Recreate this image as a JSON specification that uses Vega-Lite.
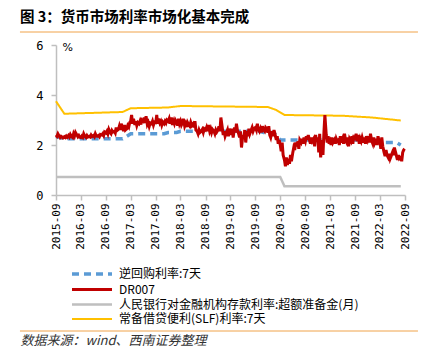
{
"$schema":"https://vega.github.io/schema/vega-lite/v6.json",
"width":349,"height":150,"autosize":"none",
"padding":{"left":56,"top":45,"right":17,"bottom":160},
"background":"white",
"config":{"view":{"stroke":null},"font":"Noto Sans CJK SC"},
"title":{"text":"图 3：货币市场利率市场化基本完成","anchor":"start","frame":"group","dx":-36,"offset":6,"fontSize":14.5,"fontWeight":"bold","color":"#000000","font":"Noto Sans CJK SC"},
"resolve":{"axis":{"x":"independent","y":"independent"}},
"datasets":{
"rules":[{"a":"2014-12-11","b":"2022-12-05","y":6.52},{"a":"2014-12-11","b":"2022-12-05","y":-5.44}],
"series":[
{"s":"逆回购利率:7天","d":"2015-09-01","v":2.35},{"s":"逆回购利率:7天","d":"2015-10-01","v":2.3},{"s":"逆回购利率:7天","d":"2015-11-01","v":2.25},{"s":"逆回购利率:7天","d":"2017-01-01","v":2.25},{"s":"逆回购利率:7天","d":"2017-02-01","v":2.35},{"s":"逆回购利率:7天","d":"2017-03-01","v":2.45},{"s":"逆回购利率:7天","d":"2017-11-01","v":2.45},{"s":"逆回购利率:7天","d":"2017-12-01","v":2.5},{"s":"逆回购利率:7天","d":"2018-02-01","v":2.5},{"s":"逆回购利率:7天","d":"2018-03-01","v":2.55},{"s":"逆回购利率:7天","d":"2019-10-01","v":2.55},{"s":"逆回购利率:7天","d":"2019-11-01","v":2.5},{"s":"逆回购利率:7天","d":"2020-01-01","v":2.5},{"s":"逆回购利率:7天","d":"2020-02-01","v":2.4},{"s":"逆回购利率:7天","d":"2020-03-01","v":2.2},{"s":"逆回购利率:7天","d":"2021-12-01","v":2.2},{"s":"逆回购利率:7天","d":"2022-01-01","v":2.1},{"s":"逆回购利率:7天","d":"2022-07-01","v":2.1},{"s":"逆回购利率:7天","d":"2022-08-01","v":2.0},
{"s":"人民银行对金融机构存款利率:超额准备金(月)","d":"2015-09-01","v":0.72},{"s":"人民银行对金融机构存款利率:超额准备金(月)","d":"2020-03-01","v":0.72},{"s":"人民银行对金融机构存款利率:超额准备金(月)","d":"2020-04-01","v":0.35},{"s":"人民银行对金融机构存款利率:超额准备金(月)","d":"2022-08-01","v":0.35},
{"s":"常备借贷便利(SLF)利率:7天","d":"2015-09-01","v":3.75},{"s":"常备借贷便利(SLF)利率:7天","d":"2015-11-01","v":3.25},{"s":"常备借贷便利(SLF)利率:7天","d":"2017-01-01","v":3.32},{"s":"常备借贷便利(SLF)利率:7天","d":"2017-03-01","v":3.47},{"s":"常备借贷便利(SLF)利率:7天","d":"2017-12-01","v":3.5},{"s":"常备借贷便利(SLF)利率:7天","d":"2018-03-01","v":3.56},{"s":"常备借贷便利(SLF)利率:7天","d":"2019-12-01","v":3.52},{"s":"常备借贷便利(SLF)利率:7天","d":"2020-02-01","v":3.4},{"s":"常备借贷便利(SLF)利率:7天","d":"2020-04-01","v":3.2},{"s":"常备借贷便利(SLF)利率:7天","d":"2021-06-01","v":3.17},{"s":"常备借贷便利(SLF)利率:7天","d":"2022-01-01","v":3.1},{"s":"常备借贷便利(SLF)利率:7天","d":"2022-08-01","v":2.98},
{"s":"DR007","d":"2015-09-01","v":2.40},{"s":"DR007","d":"2015-09-08","v":2.35},{"s":"DR007","d":"2015-09-15","v":2.45},{"s":"DR007","d":"2015-09-22","v":2.38},
{"s":"DR007","d":"2015-10-01","v":2.30},{"s":"DR007","d":"2015-10-08","v":2.35},{"s":"DR007","d":"2015-10-15","v":2.32},{"s":"DR007","d":"2015-10-22","v":2.28},
{"s":"DR007","d":"2015-11-01","v":2.33},{"s":"DR007","d":"2015-11-08","v":2.30},{"s":"DR007","d":"2015-11-15","v":2.36},{"s":"DR007","d":"2015-11-22","v":2.31},
{"s":"DR007","d":"2015-12-01","v":2.38},{"s":"DR007","d":"2015-12-08","v":2.32},{"s":"DR007","d":"2015-12-15","v":2.42},{"s":"DR007","d":"2015-12-22","v":2.35},
{"s":"DR007","d":"2016-01-01","v":2.30},{"s":"DR007","d":"2016-01-08","v":2.45},{"s":"DR007","d":"2016-01-15","v":2.36},{"s":"DR007","d":"2016-01-22","v":2.50},
{"s":"DR007","d":"2016-02-01","v":2.40},{"s":"DR007","d":"2016-02-08","v":2.33},{"s":"DR007","d":"2016-02-15","v":2.38},{"s":"DR007","d":"2016-02-22","v":2.31},
{"s":"DR007","d":"2016-03-01","v":2.30},{"s":"DR007","d":"2016-03-08","v":2.36},{"s":"DR007","d":"2016-03-15","v":2.31},{"s":"DR007","d":"2016-03-22","v":2.45},
{"s":"DR007","d":"2016-04-01","v":2.34},{"s":"DR007","d":"2016-04-08","v":2.30},{"s":"DR007","d":"2016-04-15","v":2.38},{"s":"DR007","d":"2016-04-22","v":2.32},
{"s":"DR007","d":"2016-05-01","v":2.35},{"s":"DR007","d":"2016-05-08","v":2.32},{"s":"DR007","d":"2016-05-15","v":2.40},{"s":"DR007","d":"2016-05-22","v":2.34},
{"s":"DR007","d":"2016-06-01","v":2.38},{"s":"DR007","d":"2016-06-08","v":2.33},{"s":"DR007","d":"2016-06-15","v":2.45},{"s":"DR007","d":"2016-06-22","v":2.36},
{"s":"DR007","d":"2016-07-01","v":2.35},{"s":"DR007","d":"2016-07-08","v":2.38},{"s":"DR007","d":"2016-07-15","v":2.33},{"s":"DR007","d":"2016-07-22","v":2.42},
{"s":"DR007","d":"2016-08-01","v":2.40},{"s":"DR007","d":"2016-08-08","v":2.45},{"s":"DR007","d":"2016-08-15","v":2.38},{"s":"DR007","d":"2016-08-22","v":2.52},
{"s":"DR007","d":"2016-09-01","v":2.48},{"s":"DR007","d":"2016-09-08","v":2.55},{"s":"DR007","d":"2016-09-15","v":2.45},{"s":"DR007","d":"2016-09-22","v":2.62},
{"s":"DR007","d":"2016-10-01","v":2.50},{"s":"DR007","d":"2016-10-08","v":2.45},{"s":"DR007","d":"2016-10-15","v":2.58},{"s":"DR007","d":"2016-10-22","v":2.52},
{"s":"DR007","d":"2016-11-01","v":2.55},{"s":"DR007","d":"2016-11-08","v":2.48},{"s":"DR007","d":"2016-11-15","v":2.70},{"s":"DR007","d":"2016-11-22","v":2.58},
{"s":"DR007","d":"2016-12-01","v":2.62},{"s":"DR007","d":"2016-12-08","v":2.75},{"s":"DR007","d":"2016-12-15","v":2.60},{"s":"DR007","d":"2016-12-22","v":2.85},
{"s":"DR007","d":"2017-01-01","v":2.70},{"s":"DR007","d":"2017-01-08","v":2.55},{"s":"DR007","d":"2017-01-15","v":2.80},{"s":"DR007","d":"2017-01-22","v":2.60},
{"s":"DR007","d":"2017-02-01","v":2.65},{"s":"DR007","d":"2017-02-08","v":2.78},{"s":"DR007","d":"2017-02-15","v":2.72},{"s":"DR007","d":"2017-02-22","v":2.90},
{"s":"DR007","d":"2017-03-01","v":2.95},{"s":"DR007","d":"2017-03-08","v":3.20},{"s":"DR007","d":"2017-03-15","v":2.85},{"s":"DR007","d":"2017-03-22","v":3.05},
{"s":"DR007","d":"2017-04-01","v":2.80},{"s":"DR007","d":"2017-04-08","v":2.95},{"s":"DR007","d":"2017-04-15","v":2.78},{"s":"DR007","d":"2017-04-22","v":2.90},
{"s":"DR007","d":"2017-05-01","v":2.85},{"s":"DR007","d":"2017-05-08","v":2.95},{"s":"DR007","d":"2017-05-15","v":2.82},{"s":"DR007","d":"2017-05-22","v":3.00},
{"s":"DR007","d":"2017-06-01","v":2.95},{"s":"DR007","d":"2017-06-08","v":3.10},{"s":"DR007","d":"2017-06-15","v":2.88},{"s":"DR007","d":"2017-06-22","v":3.15},
{"s":"DR007","d":"2017-07-01","v":2.82},{"s":"DR007","d":"2017-07-08","v":2.90},{"s":"DR007","d":"2017-07-15","v":2.75},{"s":"DR007","d":"2017-07-22","v":2.88},
{"s":"DR007","d":"2017-08-01","v":2.85},{"s":"DR007","d":"2017-08-08","v":2.95},{"s":"DR007","d":"2017-08-15","v":2.80},{"s":"DR007","d":"2017-08-22","v":2.92},
{"s":"DR007","d":"2017-09-01","v":2.90},{"s":"DR007","d":"2017-09-08","v":3.20},{"s":"DR007","d":"2017-09-15","v":2.85},{"s":"DR007","d":"2017-09-22","v":3.05},
{"s":"DR007","d":"2017-10-01","v":2.88},{"s":"DR007","d":"2017-10-08","v":2.95},{"s":"DR007","d":"2017-10-15","v":2.80},{"s":"DR007","d":"2017-10-22","v":2.92},
{"s":"DR007","d":"2017-11-01","v":2.85},{"s":"DR007","d":"2017-11-08","v":2.95},{"s":"DR007","d":"2017-11-15","v":2.88},{"s":"DR007","d":"2017-11-22","v":3.00},
{"s":"DR007","d":"2017-12-01","v":2.95},{"s":"DR007","d":"2017-12-08","v":3.05},{"s":"DR007","d":"2017-12-15","v":2.85},{"s":"DR007","d":"2017-12-22","v":3.10},
{"s":"DR007","d":"2018-01-01","v":2.80},{"s":"DR007","d":"2018-01-08","v":2.95},{"s":"DR007","d":"2018-01-15","v":2.85},{"s":"DR007","d":"2018-01-22","v":3.00},
{"s":"DR007","d":"2018-02-01","v":2.90},{"s":"DR007","d":"2018-02-08","v":2.78},{"s":"DR007","d":"2018-02-15","v":3.05},{"s":"DR007","d":"2018-02-22","v":2.85},
{"s":"DR007","d":"2018-03-01","v":2.95},{"s":"DR007","d":"2018-03-08","v":2.80},{"s":"DR007","d":"2018-03-15","v":2.88},{"s":"DR007","d":"2018-03-22","v":3.05},
{"s":"DR007","d":"2018-04-01","v":2.75},{"s":"DR007","d":"2018-04-08","v":2.85},{"s":"DR007","d":"2018-04-15","v":2.72},{"s":"DR007","d":"2018-04-22","v":2.90},
{"s":"DR007","d":"2018-05-01","v":2.80},{"s":"DR007","d":"2018-05-08","v":2.75},{"s":"DR007","d":"2018-05-15","v":2.90},{"s":"DR007","d":"2018-05-22","v":2.78},
{"s":"DR007","d":"2018-06-01","v":2.85},{"s":"DR007","d":"2018-06-08","v":2.70},{"s":"DR007","d":"2018-06-15","v":2.95},{"s":"DR007","d":"2018-06-22","v":2.60},
{"s":"DR007","d":"2018-07-01","v":2.55},{"s":"DR007","d":"2018-07-08","v":2.45},{"s":"DR007","d":"2018-07-15","v":2.60},{"s":"DR007","d":"2018-07-22","v":2.50},
{"s":"DR007","d":"2018-08-01","v":2.55},{"s":"DR007","d":"2018-08-08","v":2.62},{"s":"DR007","d":"2018-08-15","v":2.50},{"s":"DR007","d":"2018-08-22","v":2.65},
{"s":"DR007","d":"2018-09-01","v":2.60},{"s":"DR007","d":"2018-09-08","v":2.70},{"s":"DR007","d":"2018-09-15","v":2.55},{"s":"DR007","d":"2018-09-22","v":2.80},
{"s":"DR007","d":"2018-10-01","v":2.55},{"s":"DR007","d":"2018-10-08","v":2.65},{"s":"DR007","d":"2018-10-15","v":2.50},{"s":"DR007","d":"2018-10-22","v":2.62},
{"s":"DR007","d":"2018-11-01","v":2.55},{"s":"DR007","d":"2018-11-08","v":2.45},{"s":"DR007","d":"2018-11-15","v":2.60},{"s":"DR007","d":"2018-11-22","v":2.52},
{"s":"DR007","d":"2018-12-01","v":2.60},{"s":"DR007","d":"2018-12-08","v":2.75},{"s":"DR007","d":"2018-12-15","v":2.55},{"s":"DR007","d":"2018-12-22","v":3.10},
{"s":"DR007","d":"2019-01-01","v":2.70},{"s":"DR007","d":"2019-01-08","v":2.40},{"s":"DR007","d":"2019-01-15","v":2.55},{"s":"DR007","d":"2019-01-22","v":2.35},
{"s":"DR007","d":"2019-02-01","v":2.50},{"s":"DR007","d":"2019-02-08","v":2.60},{"s":"DR007","d":"2019-02-15","v":2.35},{"s":"DR007","d":"2019-02-22","v":2.65},
{"s":"DR007","d":"2019-03-01","v":2.55},{"s":"DR007","d":"2019-03-08","v":2.40},{"s":"DR007","d":"2019-03-15","v":2.65},{"s":"DR007","d":"2019-03-22","v":2.30},
{"s":"DR007","d":"2019-04-01","v":2.70},{"s":"DR007","d":"2019-04-08","v":2.50},{"s":"DR007","d":"2019-04-15","v":2.85},{"s":"DR007","d":"2019-04-22","v":2.60},
{"s":"DR007","d":"2019-05-01","v":2.45},{"s":"DR007","d":"2019-05-08","v":2.30},{"s":"DR007","d":"2019-05-15","v":2.55},{"s":"DR007","d":"2019-05-22","v":1.90},
{"s":"DR007","d":"2019-06-01","v":2.40},{"s":"DR007","d":"2019-06-08","v":2.25},{"s":"DR007","d":"2019-06-15","v":2.60},{"s":"DR007","d":"2019-06-22","v":2.10},
{"s":"DR007","d":"2019-07-01","v":2.55},{"s":"DR007","d":"2019-07-08","v":2.35},{"s":"DR007","d":"2019-07-15","v":2.65},{"s":"DR007","d":"2019-07-22","v":2.45},
{"s":"DR007","d":"2019-08-01","v":2.60},{"s":"DR007","d":"2019-08-08","v":2.70},{"s":"DR007","d":"2019-08-15","v":2.55},{"s":"DR007","d":"2019-08-22","v":2.65},
{"s":"DR007","d":"2019-09-01","v":2.70},{"s":"DR007","d":"2019-09-08","v":2.60},{"s":"DR007","d":"2019-09-15","v":2.85},{"s":"DR007","d":"2019-09-22","v":2.65},
{"s":"DR007","d":"2019-10-01","v":2.55},{"s":"DR007","d":"2019-10-08","v":2.65},{"s":"DR007","d":"2019-10-15","v":2.50},{"s":"DR007","d":"2019-10-22","v":2.75},
{"s":"DR007","d":"2019-11-01","v":2.60},{"s":"DR007","d":"2019-11-08","v":2.55},{"s":"DR007","d":"2019-11-15","v":2.70},{"s":"DR007","d":"2019-11-22","v":2.65},
{"s":"DR007","d":"2019-12-01","v":2.50},{"s":"DR007","d":"2019-12-08","v":2.75},{"s":"DR007","d":"2019-12-15","v":2.40},{"s":"DR007","d":"2019-12-22","v":2.30},
{"s":"DR007","d":"2020-01-01","v":2.55},{"s":"DR007","d":"2020-01-08","v":2.35},{"s":"DR007","d":"2020-01-15","v":2.60},{"s":"DR007","d":"2020-01-22","v":2.45},
{"s":"DR007","d":"2020-02-01","v":2.20},{"s":"DR007","d":"2020-02-08","v":2.35},{"s":"DR007","d":"2020-02-15","v":2.05},{"s":"DR007","d":"2020-02-22","v":2.20},
{"s":"DR007","d":"2020-03-01","v":2.00},{"s":"DR007","d":"2020-03-08","v":1.75},{"s":"DR007","d":"2020-03-15","v":2.10},{"s":"DR007","d":"2020-03-22","v":1.60},
{"s":"DR007","d":"2020-04-01","v":1.40},{"s":"DR007","d":"2020-04-08","v":1.15},{"s":"DR007","d":"2020-04-15","v":1.50},{"s":"DR007","d":"2020-04-22","v":1.20},
{"s":"DR007","d":"2020-05-01","v":1.45},{"s":"DR007","d":"2020-05-08","v":1.25},{"s":"DR007","d":"2020-05-15","v":1.60},{"s":"DR007","d":"2020-05-22","v":1.35},
{"s":"DR007","d":"2020-06-01","v":1.70},{"s":"DR007","d":"2020-06-08","v":1.90},{"s":"DR007","d":"2020-06-15","v":1.80},{"s":"DR007","d":"2020-06-22","v":2.10},
{"s":"DR007","d":"2020-07-01","v":1.95},{"s":"DR007","d":"2020-07-08","v":2.15},{"s":"DR007","d":"2020-07-15","v":1.85},{"s":"DR007","d":"2020-07-22","v":2.20},
{"s":"DR007","d":"2020-08-01","v":2.10},{"s":"DR007","d":"2020-08-08","v":2.25},{"s":"DR007","d":"2020-08-15","v":2.05},{"s":"DR007","d":"2020-08-22","v":2.30},
{"s":"DR007","d":"2020-09-01","v":2.15},{"s":"DR007","d":"2020-09-08","v":2.35},{"s":"DR007","d":"2020-09-15","v":2.20},{"s":"DR007","d":"2020-09-22","v":2.40},
{"s":"DR007","d":"2020-10-01","v":2.20},{"s":"DR007","d":"2020-10-08","v":2.05},{"s":"DR007","d":"2020-10-15","v":2.30},{"s":"DR007","d":"2020-10-22","v":2.15},
{"s":"DR007","d":"2020-11-01","v":2.25},{"s":"DR007","d":"2020-11-08","v":1.95},{"s":"DR007","d":"2020-11-15","v":2.40},{"s":"DR007","d":"2020-11-22","v":2.15},
{"s":"DR007","d":"2020-12-01","v":2.30},{"s":"DR007","d":"2020-12-08","v":1.70},{"s":"DR007","d":"2020-12-15","v":2.45},{"s":"DR007","d":"2020-12-22","v":1.50},
{"s":"DR007","d":"2021-01-01","v":2.20},{"s":"DR007","d":"2021-01-08","v":1.60},{"s":"DR007","d":"2021-01-15","v":2.50},{"s":"DR007","d":"2021-01-22","v":3.20},
{"s":"DR007","d":"2021-02-01","v":2.40},{"s":"DR007","d":"2021-02-08","v":2.10},{"s":"DR007","d":"2021-02-15","v":2.35},{"s":"DR007","d":"2021-02-22","v":2.05},
{"s":"DR007","d":"2021-03-01","v":2.15},{"s":"DR007","d":"2021-03-08","v":2.00},{"s":"DR007","d":"2021-03-15","v":2.30},{"s":"DR007","d":"2021-03-22","v":2.10},
{"s":"DR007","d":"2021-04-01","v":2.20},{"s":"DR007","d":"2021-04-08","v":2.05},{"s":"DR007","d":"2021-04-15","v":2.25},{"s":"DR007","d":"2021-04-22","v":2.15},
{"s":"DR007","d":"2021-05-01","v":2.20},{"s":"DR007","d":"2021-05-08","v":2.00},{"s":"DR007","d":"2021-05-15","v":2.35},{"s":"DR007","d":"2021-05-22","v":2.10},
{"s":"DR007","d":"2021-06-01","v":2.25},{"s":"DR007","d":"2021-06-08","v":2.05},{"s":"DR007","d":"2021-06-15","v":2.45},{"s":"DR007","d":"2021-06-22","v":2.20},
{"s":"DR007","d":"2021-07-01","v":2.10},{"s":"DR007","d":"2021-07-08","v":2.30},{"s":"DR007","d":"2021-07-15","v":1.95},{"s":"DR007","d":"2021-07-22","v":2.25},
{"s":"DR007","d":"2021-08-01","v":2.15},{"s":"DR007","d":"2021-08-08","v":2.35},{"s":"DR007","d":"2021-08-15","v":2.05},{"s":"DR007","d":"2021-08-22","v":2.40},
{"s":"DR007","d":"2021-09-01","v":2.20},{"s":"DR007","d":"2021-09-08","v":2.45},{"s":"DR007","d":"2021-09-15","v":2.15},{"s":"DR007","d":"2021-09-22","v":2.40},
{"s":"DR007","d":"2021-10-01","v":2.05},{"s":"DR007","d":"2021-10-08","v":2.25},{"s":"DR007","d":"2021-10-15","v":2.15},{"s":"DR007","d":"2021-10-22","v":2.30},
{"s":"DR007","d":"2021-11-01","v":2.10},{"s":"DR007","d":"2021-11-08","v":2.30},{"s":"DR007","d":"2021-11-15","v":2.05},{"s":"DR007","d":"2021-11-22","v":2.35},
{"s":"DR007","d":"2021-12-01","v":2.20},{"s":"DR007","d":"2021-12-08","v":2.35},{"s":"DR007","d":"2021-12-15","v":2.10},{"s":"DR007","d":"2021-12-22","v":2.45},
{"s":"DR007","d":"2022-01-01","v":2.15},{"s":"DR007","d":"2022-01-08","v":2.05},{"s":"DR007","d":"2022-01-15","v":2.30},{"s":"DR007","d":"2022-01-22","v":2.10},
{"s":"DR007","d":"2022-02-01","v":2.25},{"s":"DR007","d":"2022-02-08","v":2.00},{"s":"DR007","d":"2022-02-15","v":2.35},{"s":"DR007","d":"2022-02-22","v":2.20},
{"s":"DR007","d":"2022-03-01","v":2.10},{"s":"DR007","d":"2022-03-08","v":1.85},{"s":"DR007","d":"2022-03-15","v":2.30},{"s":"DR007","d":"2022-03-22","v":1.95},
{"s":"DR007","d":"2022-04-01","v":1.70},{"s":"DR007","d":"2022-04-08","v":1.55},{"s":"DR007","d":"2022-04-15","v":1.80},{"s":"DR007","d":"2022-04-22","v":1.60},
{"s":"DR007","d":"2022-05-01","v":1.50},{"s":"DR007","d":"2022-05-08","v":1.65},{"s":"DR007","d":"2022-05-15","v":1.45},{"s":"DR007","d":"2022-05-22","v":1.55},
{"s":"DR007","d":"2022-06-01","v":1.70},{"s":"DR007","d":"2022-06-08","v":1.60},{"s":"DR007","d":"2022-06-15","v":1.90},{"s":"DR007","d":"2022-06-22","v":1.75},
{"s":"DR007","d":"2022-07-01","v":1.55},{"s":"DR007","d":"2022-07-08","v":1.40},{"s":"DR007","d":"2022-07-15","v":1.60},{"s":"DR007","d":"2022-07-22","v":1.45},
{"s":"DR007","d":"2022-08-01","v":1.50},{"s":"DR007","d":"2022-08-08","v":1.35},{"s":"DR007","d":"2022-08-15","v":1.70},{"s":"DR007","d":"2022-08-22","v":1.80},
{"s":"DR007","d":"2022-08-29","v":1.85}
]},
"layer":[
{"data":{"name":"series"},"mark":{"type":"line","clip":false},
 "encoding":{
  "x":{"field":"d","type":"temporal",
   "scale":{"type":"utc","domain":[1441065600000,1661990400000],"nice":false},
   "axis":{"values":[1441065600000,1456790400000,1472688000000,1488326400000,1504224000000,1519862400000,1535760000000,1551398400000,1567296000000,1583020800000,1598918400000,1614556800000,1630454400000,1646092800000,1661990400000],
    "format":"%Y-%m","labelAngle":-90,"labelAlign":"right","labelBaseline":"middle","labelPadding":3,"labelFont":"DejaVu Sans Mono","labelFontSize":11,"labelColor":"#000000","labelOverlap":false,"labelBound":false,"labelFlush":false,
    "domainColor":"#BFBFBF","domainWidth":1.5,"tickColor":"#BFBFBF","tickWidth":1.5,"tickSize":5,"grid":false,
    "title":"数据来源：wind、西南证券整理","titleFont":"Noto Sans CJK SC","titleFontStyle":"italic","titleFontWeight":"normal","titleFontSize":13,"titleColor":"#333333","titleAlign":"left","titleAnchor":"start","titleBaseline":"middle","titleX":-36,"titleY":145}},
  "y":{"field":"v","type":"quantitative",
   "scale":{"domain":[0,6],"nice":false,"zero":false},
   "axis":{"values":[0,2,4,6],"labelFont":"DejaVu Sans Mono","labelFontSize":12,"labelColor":"#000000","labelPadding":8,
    "domainColor":"#BFBFBF","domainWidth":1.5,"tickColor":"#BFBFBF","tickWidth":1.5,"tickSize":5,"grid":false,
    "title":"%","titleAngle":0,"titleAlign":"left","titleBaseline":"middle","titleX":6,"titleY":2,"titleFont":"DejaVu Sans","titleFontSize":11,"titleFontWeight":"normal","titleColor":"#000000"}},
  "color":{"field":"s","type":"nominal",
   "scale":{"domain":["逆回购利率:7天","DR007","人民银行对金融机构存款利率:超额准备金(月)","常备借贷便利(SLF)利率:7天"],"range":["#5B9BD5","#C00000","#BFBFBF","#FFC000"]},
   "legend":{"title":null,"orient":"none","legendX":29,"legendY":222,"direction":"vertical","symbolType":"M-4,0H4","symbolSize":100,"labelFont":"Noto Sans CJK SC","labelFontSize":12,"labelColor":"#000000","labelOffset":20,"rowPadding":2,"labelLimit":400}},
  "strokeDash":{"field":"s","type":"nominal",
   "scale":{"domain":["逆回购利率:7天","DR007","人民银行对金融机构存款利率:超额准备金(月)","常备借贷便利(SLF)利率:7天"],"range":[[7,5],[1,0],[1,0],[1,0]]}},
  "strokeWidth":{"field":"s","type":"nominal",
   "scale":{"domain":["逆回购利率:7天","DR007","人民银行对金融机构存款利率:超额准备金(月)","常备借贷便利(SLF)利率:7天"],"range":[3.5,2,2.2,2.5]}}
 }},
{"data":{"name":"rules"},"mark":{"type":"rule","clip":false,"color":"#F0A34A","strokeWidth":1},
 "encoding":{"x":{"field":"a","type":"temporal","axis":null},"x2":{"field":"b"},"y":{"field":"y","type":"quantitative","axis":null}}}
]
}
